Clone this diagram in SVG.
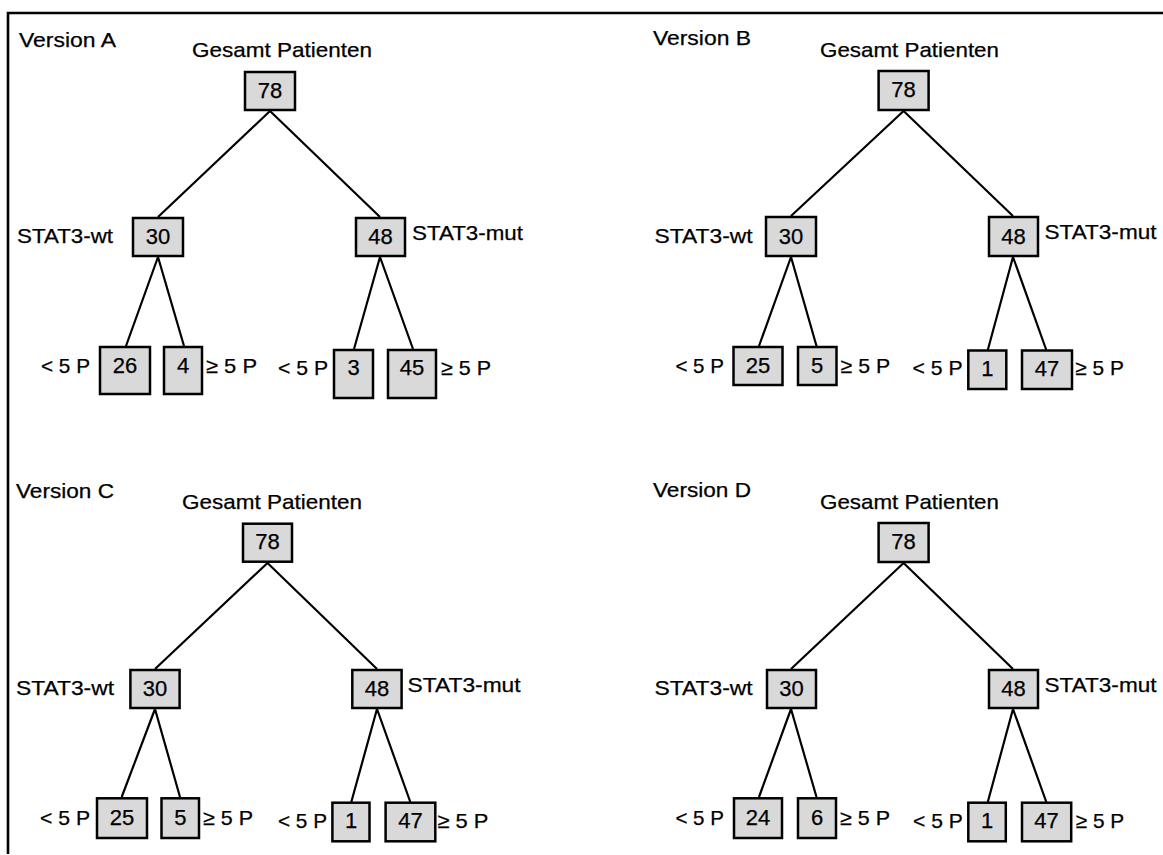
<svg xmlns="http://www.w3.org/2000/svg" width="1163" height="855" viewBox="0 0 1163 855">
<style>
.box{fill:#d9d9d9;stroke:#000;stroke-width:2.5}
.ln{stroke:#000;stroke-width:2.2;fill:none}
text{font-family:"Liberation Sans",Arial,sans-serif;font-size:21px;fill:#000;stroke:#000;stroke-width:0.25}
.n{text-anchor:middle;font-size:22px}
</style>
<rect x="0" y="0" width="1163" height="855" fill="#fff"/>
<path d="M8,854 V13 H1163" fill="none" stroke="#000" stroke-width="2.6"/>
<g id="connectors">
<path class="ln" d="M270,111 L158,217 M270,111 L380,217 M158,257 L126,346 M158,257 L184,346 M380,257 L354,349 M380,257 L413,349"/>
<path class="ln" d="M903.6,111 L791,216 M903.6,111 L1013,216 M791,257 L759,346 M791,257 L816.5,346 M1013,257 L987.8,350 M1013,257 L1046.3,350"/>
<path class="ln" d="M267.5,563 L155,669 M267.5,563 L377,669 M155,709 L121.7,797 M155,709 L180,797 M377,709 L351.3,802 M377,709 L410.3,802"/>
<path class="ln" d="M903.6,563 L791,669 M903.6,563 L1013,669 M791,709 L759,797 M791,709 L816.5,797 M1013,709 L987.8,802 M1013,709 L1046.3,802"/>
</g>
<g id="panelA">
<text x="19" y="47" textLength="97" lengthAdjust="spacingAndGlyphs">Version A</text>
<text x="192" y="57" textLength="180" lengthAdjust="spacingAndGlyphs">Gesamt Patienten</text>
<g id="A_root"><rect class="box" x="245" y="72" width="50" height="38"/><text class="n" x="270" y="98">78</text></g>
<g id="A_wt"><rect class="box" x="133" y="218" width="50" height="38"/><text class="n" x="158" y="244">30</text><text x="17" y="243" textLength="96" lengthAdjust="spacingAndGlyphs">STAT3-wt</text></g>
<g id="A_mut"><rect class="box" x="356" y="218" width="49" height="38"/><text class="n" x="380.5" y="244">48</text><text x="412" y="240" textLength="111" lengthAdjust="spacingAndGlyphs">STAT3-mut</text></g>
<g id="A_wt_lt"><rect class="box" x="100" y="347" width="50" height="47"/><text class="n" x="125" y="373">26</text><text x="41" y="373" textLength="49" lengthAdjust="spacingAndGlyphs">&lt; 5 P</text></g>
<g id="A_wt_ge"><rect class="box" x="164" y="347" width="38" height="47"/><text class="n" x="183" y="373">4</text><text x="206" y="373" textLength="51" lengthAdjust="spacingAndGlyphs">≥ 5 P</text></g>
<g id="A_mut_lt"><rect class="box" x="334" y="350" width="39" height="48"/><text class="n" x="353.5" y="375">3</text><text x="278" y="375" textLength="50" lengthAdjust="spacingAndGlyphs">&lt; 5 P</text></g>
<g id="A_mut_ge"><rect class="box" x="388" y="350" width="48" height="48"/><text class="n" x="412" y="375">45</text><text x="441" y="375" textLength="50" lengthAdjust="spacingAndGlyphs">≥ 5 P</text></g>
</g>
<g id="panelB">
<text x="653" y="45" textLength="98" lengthAdjust="spacingAndGlyphs">Version B</text>
<text x="820" y="57" textLength="179" lengthAdjust="spacingAndGlyphs">Gesamt Patienten</text>
<g id="B_root"><rect class="box" x="878.6" y="71" width="50" height="39"/><text class="n" x="903.6" y="97">78</text></g>
<g id="B_wt"><rect class="box" x="766" y="217" width="50" height="39"/><text class="n" x="791" y="244">30</text><text x="654.6" y="243" textLength="98" lengthAdjust="spacingAndGlyphs">STAT3-wt</text></g>
<g id="B_mut"><rect class="box" x="989" y="217" width="49" height="39"/><text class="n" x="1013.5" y="244">48</text><text x="1044.5" y="239" textLength="112" lengthAdjust="spacingAndGlyphs">STAT3-mut</text></g>
<g id="B_wt_lt"><rect class="box" x="733.5" y="347" width="49" height="38"/><text class="n" x="758" y="373">25</text><text x="675.4" y="373" textLength="48.5" lengthAdjust="spacingAndGlyphs">&lt; 5 P</text></g>
<g id="B_wt_ge"><rect class="box" x="798" y="347" width="38.5" height="38"/><text class="n" x="817" y="373">5</text><text x="840.6" y="373" textLength="49.5" lengthAdjust="spacingAndGlyphs">≥ 5 P</text></g>
<g id="B_mut_lt"><rect class="box" x="968.3" y="350.5" width="38" height="38.5"/><text class="n" x="987.3" y="376">1</text><text x="912.6" y="375" textLength="50" lengthAdjust="spacingAndGlyphs">&lt; 5 P</text></g>
<g id="B_mut_ge"><rect class="box" x="1022" y="350.5" width="50" height="38.5"/><text class="n" x="1047" y="376">47</text><text x="1075.3" y="375" textLength="48.5" lengthAdjust="spacingAndGlyphs">≥ 5 P</text></g>
</g>
<g id="panelC">
<text x="16" y="498" textLength="98" lengthAdjust="spacingAndGlyphs">Version C</text>
<text x="182" y="509" textLength="180" lengthAdjust="spacingAndGlyphs">Gesamt Patienten</text>
<g id="C_root"><rect class="box" x="243" y="523.7" width="49" height="38"/><text class="n" x="267.5" y="549">78</text></g>
<g id="C_wt"><rect class="box" x="130.4" y="670" width="49.2" height="38"/><text class="n" x="155" y="696">30</text><text x="16" y="695" textLength="98" lengthAdjust="spacingAndGlyphs">STAT3-wt</text></g>
<g id="C_mut"><rect class="box" x="352.3" y="670" width="49.3" height="38"/><text class="n" x="377" y="696">48</text><text x="407.6" y="692" textLength="113" lengthAdjust="spacingAndGlyphs">STAT3-mut</text></g>
<g id="C_wt_lt"><rect class="box" x="97" y="798.3" width="50" height="39.7"/><text class="n" x="122" y="825">25</text><text x="40" y="825" textLength="50" lengthAdjust="spacingAndGlyphs">&lt; 5 P</text></g>
<g id="C_wt_ge"><rect class="box" x="161.5" y="798.3" width="37.5" height="39.7"/><text class="n" x="180.3" y="825">5</text><text x="203" y="825" textLength="50" lengthAdjust="spacingAndGlyphs">≥ 5 P</text></g>
<g id="C_mut_lt"><rect class="box" x="332.4" y="802.7" width="37.1" height="38.6"/><text class="n" x="351" y="828">1</text><text x="278" y="828" textLength="49" lengthAdjust="spacingAndGlyphs">&lt; 5 P</text></g>
<g id="C_mut_ge"><rect class="box" x="385.6" y="802.7" width="49.7" height="38.6"/><text class="n" x="410.5" y="828">47</text><text x="437.4" y="828" textLength="51" lengthAdjust="spacingAndGlyphs">≥ 5 P</text></g>
</g>
<g id="panelD">
<text x="653" y="497" textLength="98" lengthAdjust="spacingAndGlyphs">Version D</text>
<text x="820" y="509" textLength="179" lengthAdjust="spacingAndGlyphs">Gesamt Patienten</text>
<g id="D_root"><rect class="box" x="878.6" y="523" width="50" height="39"/><text class="n" x="903.6" y="549">78</text></g>
<g id="D_wt"><rect class="box" x="767" y="670" width="49" height="38"/><text class="n" x="791.5" y="696">30</text><text x="654.6" y="695" textLength="98" lengthAdjust="spacingAndGlyphs">STAT3-wt</text></g>
<g id="D_mut"><rect class="box" x="989" y="670" width="49" height="38"/><text class="n" x="1013.5" y="696">48</text><text x="1044.5" y="692" textLength="112" lengthAdjust="spacingAndGlyphs">STAT3-mut</text></g>
<g id="D_wt_lt"><rect class="box" x="734" y="798.3" width="48" height="39.7"/><text class="n" x="758" y="825">24</text><text x="675.4" y="825" textLength="48.5" lengthAdjust="spacingAndGlyphs">&lt; 5 P</text></g>
<g id="D_wt_ge"><rect class="box" x="798" y="798.3" width="38" height="39.7"/><text class="n" x="817" y="825">6</text><text x="840" y="825" textLength="50" lengthAdjust="spacingAndGlyphs">≥ 5 P</text></g>
<g id="D_mut_lt"><rect class="box" x="968.3" y="802.7" width="37.5" height="38.6"/><text class="n" x="987" y="828">1</text><text x="913" y="828" textLength="49.7" lengthAdjust="spacingAndGlyphs">&lt; 5 P</text></g>
<g id="D_mut_ge"><rect class="box" x="1022" y="802.7" width="49.2" height="38.6"/><text class="n" x="1046.6" y="828">47</text><text x="1075.8" y="828" textLength="48.4" lengthAdjust="spacingAndGlyphs">≥ 5 P</text></g>
</g>
</svg>
